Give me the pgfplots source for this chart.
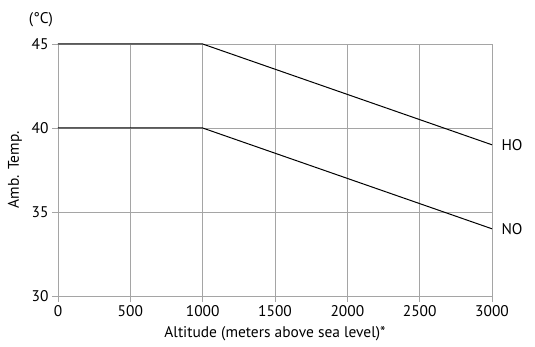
\documentclass[border=0pt]{standalone}
\usepackage{fontspec}
\setmainfont{PT Sans}
\usepackage{pgfplots}
\pgfplotsset{compat=1.18}
\definecolor{gridc}{RGB}{165,165,165}
\newcommand{\fs}{\fontsize{15.5}{17}\selectfont}
\begin{document}
\begin{tikzpicture}
\begin{axis}[
 at={(0,0)}, anchor=south west,
 scale only axis, width=434bp, height=252bp,
 xmin=0, xmax=3000, ymin=30, ymax=45,
 xtick={0,500,1000,1500,2000,2500,3000},
 ytick={30,35,40,45},
 grid=major,
 major grid style={draw=gridc, line width=0.8bp},
 axis line style={draw=gridc, line width=0.8bp},
 tick style={draw=gridc, line width=0.8bp},
 tick align=outside, major tick length=6bp,
 xtick pos=bottom, ytick pos=left,
 tick label style={font=\fs},
 /pgf/number format/assume math mode=true,
 /pgf/number format/set thousands separator={},
 xlabel={Altitude (meters above sea level)*},
 ylabel={Amb. Temp.},
 xlabel style={font=\fs, at={([yshift=-38bp]axis description cs:0.5,0)}, anchor=center},
 ylabel style={font=\fs, at={([xshift=-43bp]axis description cs:0,0.5)}, anchor=center},
 clip=false,
]
\addplot[black, line width=1bp] coordinates {(0,45)(1000,45)(3000,39)};
\addplot[black, line width=1bp] coordinates {(0,40)(1000,40)(3000,34)};
\node[anchor=west, font=\fs] at ([xshift=6bp]axis cs:3000,39) {HO};
\node[anchor=west, font=\fs] at ([xshift=6bp]axis cs:3000,34) {NO};
\node[anchor=center, font=\fs] at ([xshift=-17bp,yshift=24bp]rel axis cs:0,1) {(°C)};
\end{axis}
\pgfresetboundingbox
\path[use as bounding box] (-58bp,-51bp) rectangle (477bp,296bp);
\end{tikzpicture}
\end{document}
